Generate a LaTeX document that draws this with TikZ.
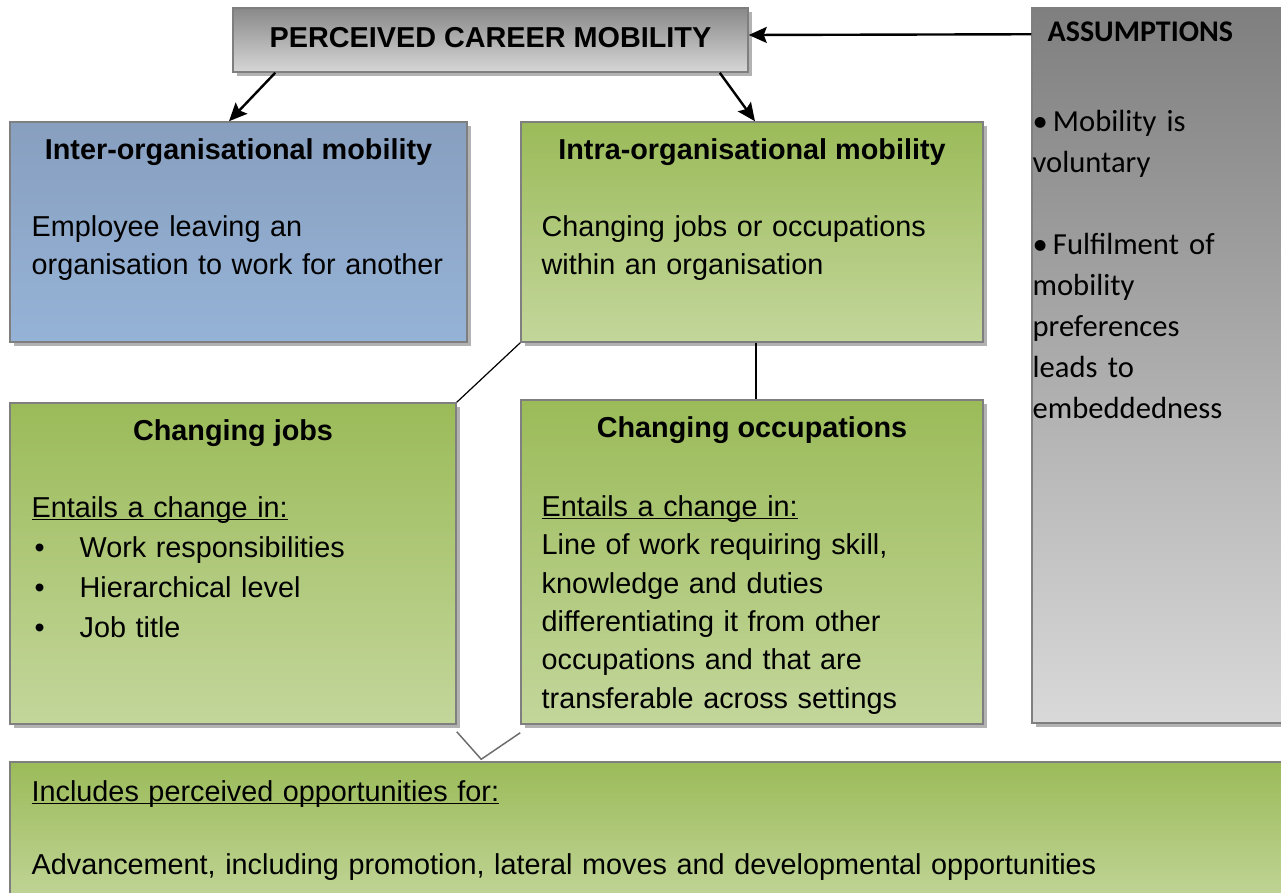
\documentclass[tikz,border=0pt]{standalone}
\usepackage{fontspec}
\setmainfont{Liberation Sans}
\newfontfamily\calibri{Carlito}
\usetikzlibrary{positioning,fit,shadows,arrows.meta}

\definecolor{boxline}{HTML}{7F7F7F}
\definecolor{greytop}{HTML}{898989}
\definecolor{greybot}{HTML}{D6D6D6}
\definecolor{bluetop}{HTML}{889FBF}
\definecolor{bluebot}{HTML}{95B3D7}
\definecolor{greentop}{HTML}{9BBB59}
\definecolor{greenbot}{HTML}{C3D69B}
\definecolor{asstop}{HTML}{7F7F7F}
\definecolor{assbot}{HTML}{D9D9D9}
\definecolor{vline}{HTML}{6E6E6E}

\tikzset{
  box/.style={rectangle, draw=boxline, line width=0.75pt, inner sep=0pt,
    drop shadow={shadow xshift=2pt, shadow yshift=-2pt, fill=black!30, opacity=1}},
  greybox/.style={box, top color=greytop, bottom color=greybot},
  bluebox/.style={box, top color=bluetop, bottom color=bluebot},
  greenbox/.style={box, top color=greentop, bottom color=greenbot},
  assbox/.style={box, top color=asstop, bottom color=assbot},
  title/.style={font=\bfseries\fontsize{14.4}{19.2}\selectfont, anchor=base, inner sep=0pt},
  body/.style={font=\fontsize{14.4}{19.2}\selectfont, anchor=base west, inner sep=0pt,
    text width=225pt, align=left},
  arr/.style={-{Stealth[length=9pt,width=8pt,inset=1.5pt]}, line width=1.2pt},
  link/.style={line width=0.6pt},
  vlink/.style={draw=vline, line width=0.75pt},
}

\newcommand{\bul}{\makebox[24pt][l]{\hspace{1.5pt}\textbullet}}
\newlength{\ulwd}
\newcommand{\uln}[1]{\settowidth{\ulwd}{#1}\rlap{\rule[-1.3pt]{\ulwd}{0.6pt}}#1}

\begin{document}
\begin{tikzpicture}[x=0.5pt, y=-0.5pt]
\useasboundingbox (0,0) rectangle (1281,893);

% boxes
\node[greybox, fit={(233,8) (748,72)}] (top) {};
\node[bluebox, fit={(10,122) (467,342)}] (inter) {};
\node[greenbox, fit={(521,122) (983,342)}] (intra) {};
\node[greenbox, fit={(10,403) (456,724)}] (jobs) {};
\node[greenbox, fit={(521,400) (983,724)}] (occ) {};
\node[assbox, fit={(1032,8) (1300,723)}] (assump) {};
\node[greenbox, fit={(10,762) (1300,910)}] (incl) {};

% texts
\node[title] (topT) at ([yshift=-4pt]top.center) {PERCEIVED CAREER MOBILITY};

\node[title] (interT) at ([yshift=-19pt]inter.north) {Inter-organisational mobility};
\node[body] (interB) at ([xshift=11pt,yshift=-57.5pt]inter.north west)
  {Employee leaving an\\organisation to work for another};

\node[title] (intraT) at ([yshift=-19pt]intra.north) {Intra-organisational mobility};
\node[body] (intraB) at ([xshift=10.5pt,yshift=-57.5pt]intra.north west)
  {Changing jobs or occupations\\within an organisation};

\node[title] (jobsT) at ([yshift=-19pt]jobs.north) {Changing jobs};
\node[body, font=\fontsize{14.4}{20}\selectfont] (jobsB) at ([xshift=11pt,yshift=-57.5pt]jobs.north west)
  {\uln{Entails a change in:}\\
   \bul Work responsibilities\\
   \bul Hierarchical level\\
   \bul Job title};

\node[title] (occT) at ([yshift=-19pt]occ.north) {Changing occupations};
\begin{scope}
  \clip (521,400) rectangle (983,713);
  \node[body] (occB) at ([xshift=10.5pt,yshift=-58.5pt]occ.north west)
    {\uln{Entails a change in:}\\
     Line of work requiring skill,\\
     knowledge and duties\\
     differentiating it from other\\
     occupations and that are\\
     transferable across settings};
\end{scope}

\node[font=\calibri\bfseries\fontsize{15}{20.5}\selectfont, anchor=base west, inner sep=0pt]
  (assT) at ([xshift=8pt,yshift=-17pt]assump.north west) {ASSUMPTIONS};
\node[font=\calibri\fontsize{15.3}{20.5}\selectfont, anchor=base west, inner sep=0pt,
  text width=120pt, align=left] (assB) at ([xshift=0.5pt,yshift=-62pt]assump.north west)
  {\textbullet\,Mobility is\\
   voluntary\\[20.5pt]
   \textbullet\,Fulfilment of\\
   mobility\\
   preferences\\
   leads to\\
   embeddedness};

\node[body, text width=600pt] (inclA) at ([xshift=11pt,yshift=-20pt]incl.north west)
  {\uln{Includes perceived opportunities for:}};
\node[body, text width=600pt] (inclB) at ([xshift=11pt,yshift=-56.5pt]incl.north west)
  {Advancement, including promotion, lateral moves and developmental opportunities};

% connectors
\draw[arr] ([xshift=21.5pt]top.south west) -- ([xshift=-4.75pt]inter.north);
\draw[arr] ([xshift=-14.5pt]top.south east) -- ([xshift=1.5pt]intra.north);
\draw[arr] ([yshift=-13.5pt]assump.north west) -- ([yshift=2.5pt]top.east);
\draw[link] (intra.south west) -- (jobs.north east);
\draw[link] ([xshift=2pt]intra.south) -- ([xshift=2pt]occ.north);
\coordinate (vtip) at ([xshift=236pt,yshift=1pt]incl.north west);
\draw[vlink] ([yshift=-3.5pt]jobs.south east) -- (vtip) -- ([yshift=-4pt]occ.south west);
\end{tikzpicture}
\end{document}
